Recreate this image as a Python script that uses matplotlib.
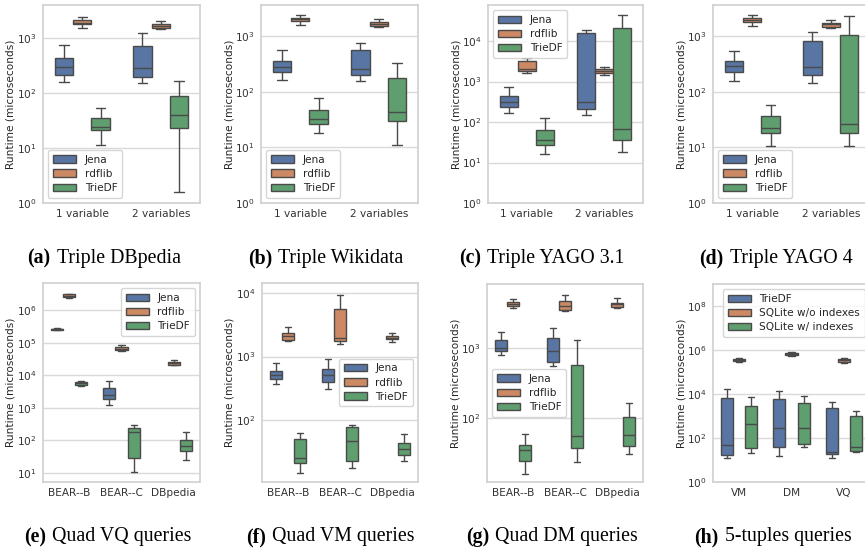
import matplotlib
matplotlib.use("Agg")
import matplotlib.pyplot as plt
from matplotlib.patches import Patch
import seaborn as sns

# five-number summaries per box: [whisker low, q1, median, q3, whisker high]
# None = no box for that group

# (a) Triple DBpedia
a_cats = ["1 variable", "2 variables"]
a_jena = [[160, 209, 291, 440, 760], [151, 197, 279, 716, 1230]]
a_rdflib = [[1520, 1770, 1890, 2090, 2400], [1450, 1520, 1650, 1770, 2000]]
a_triedf = [[11.2, 21, 24, 35, 54], [1.6, 23, 39, 88, 167]]

# (b) Triple Wikidata
b_cats = ["1 variable", "2 variables"]
b_jena = [[164, 229, 281, 363, 552], [156, 200, 256, 569, 760]]
b_rdflib = [[1600, 1860, 2020, 2160, 2380], [1470, 1530, 1660, 1760, 2020]]
b_triedf = [[18, 26, 32.7, 47.5, 76], [10.9, 30, 44, 176, 327]]

# (c) Triple YAGO 3.1
c_cats = ["1 variable", "2 variables"]
c_jena = [[166, 234, 309, 427, 726], [151, 209, 309, 16000, 19000]]
c_rdflib = [[1600, 1860, 2000, 3230, 3750], [1490, 1580, 1790, 2000, 2340]]
c_triedf = [[16.3, 26.5, 36.8, 65, 125], [18, 37, 66, 21300, 44500]]

# (d) Triple YAGO 4
d_cats = ["1 variable", "2 variables"]
d_jena = [[153, 228, 293, 361, 545], [145, 197, 282, 813, 1200]]
d_rdflib = [[1510, 1790, 1990, 2160, 2450], [1410, 1450, 1620, 1710, 1990]]
d_triedf = [[10.7, 17.9, 22, 36.6, 57], [10.7, 18, 26, 1030, 2260]]

# (e) Quad VQ queries
e_cats = ["BEAR--B", "BEAR--C", "DBpedia"]
e_jena = [[2.4e5, 2.45e5, 2.6e5, 2.7e5, 2.8e5], [1230, 1800, 2500, 4000, 6700], None]
e_rdflib = [[2.3e6, 2.5e6, 2.75e6, 3.0e6, 3.2e6], [5.6e4, 5.8e4, 6.4e4, 7.2e4, 8.3e4],
            [2.0e4, 2.1e4, 2.3e4, 2.6e4, 2.9e4]]
e_triedf = [[4500, 5100, 5700, 6200, 6600], [10.5, 28.7, 176, 240, 295], [25, 48, 65, 105, 176]]

# (f) Quad VM queries
f_cats = ["BEAR--B", "BEAR--C", "DBpedia"]
f_jena = [[375, 437, 513, 589, 804], [305, 403, 513, 631, 907], None]
f_rdflib = [[1730, 1850, 2090, 2370, 2870], [1600, 1770, 1950, 5590, 9420],
            [1680, 1880, 1990, 2120, 2340]]
f_triedf = [[14.7, 20.7, 24.8, 49.5, 61.6], [17.3, 22.8, 46.5, 76.6, 83], [22.8, 27.9, 35, 43, 60]]

# (g) Quad DM queries
g_cats = ["BEAR--B", "BEAR--C", "DBpedia"]
g_jena = [[792, 895, 978, 1290, 1700], [556, 629, 895, 1390, 1920], None]
g_rdflib = [[3690, 3990, 4260, 4450, 4980], [3370, 3490, 3890, 4600, 5750],
            [3690, 3820, 4170, 4360, 5140]]
g_triedf = [[16.1, 24.5, 35, 41, 59], [23.7, 36.9, 55.6, 563, 1290], [30.6, 39.9, 56.9, 103, 161]]

# (h) 5-tuples queries
h_cats = ["VM", "DM", "VQ"]
h_triedf = [[12.3, 17.5, 50, 6300, 16300], [15, 41, 295, 5700, 13300], [12, 18, 24, 2300, 4500]]
h_sqlite_noidx = [[2.8e5, 3.06e5, 3.5e5, 4.0e5, 4.5e5], [5.3e5, 5.7e5, 6.6e5, 7.5e5, 8.1e5],
                  [2.6e5, 2.96e5, 3.4e5, 3.9e5, 4.2e5]]
h_sqlite_idx = [[21, 34, 434, 2840, 7300], [39, 51, 274, 4000, 8400], [22, 26.5, 39, 1040, 1640]]

rdf_labels = ["Jena", "rdflib", "TrieDF"]
h_labels = ["TrieDF", "SQLite w/o indexes", "SQLite w/ indexes"]

captions = [("(a)", "Triple DBpedia"), ("(b)", "Triple Wikidata"), ("(c)", "Triple YAGO 3.1"),
            ("(d)", "Triple YAGO 4"), ("(e)", "Quad VQ queries"), ("(f)", "Quad VM queries"),
            ("(g)", "Quad DM queries"), ("(h)", "5-tuples queries")]

sns.set_theme(style="whitegrid")
plt.rcParams["font.family"] = ["DejaVu Sans"]
plt.rcParams["axes.edgecolor"] = ".82"
plt.rcParams["grid.color"] = ".85"

colors = ["#5875A3", "#CC8963", "#5F9E6E"]
edge = "#4a4a4a"

W, H = 865, 549
fig = plt.figure(figsize=(W / 100, H / 100), dpi=100)


def make_ax(left, top, width, height):
    return fig.add_axes([left / W, 1 - (top + height) / H, width / W, height / H])


def draw(ax, cats, series, labels, ylim, legend_loc, yticks=None, anchor=None):
    n = len(series)
    bw = 0.7 / n
    for j, ser in enumerate(series):
        off = (j - (n - 1) / 2) * bw
        stats, pos = [], []
        for i, v in enumerate(ser):
            if v is None:
                continue
            stats.append(dict(whislo=v[0], q1=v[1], med=v[2], q3=v[3], whishi=v[4], fliers=[]))
            pos.append(i + off)
        ax.bxp(stats, positions=pos, widths=bw, patch_artist=True, showfliers=False,
               boxprops=dict(facecolor=colors[j], edgecolor=edge, linewidth=1.0),
               medianprops=dict(color=edge, linewidth=1.0),
               whiskerprops=dict(color=edge, linewidth=1.0),
               capprops=dict(color=edge, linewidth=1.0), capwidths=bw / 2)
    ax.set_yscale("log")
    ax.set_ylim(*ylim)
    if yticks is not None:
        ax.set_yticks(yticks)
    ax.minorticks_off()
    ax.set_xlim(-0.5, len(cats) - 0.5)
    ax.set_xticks(range(len(cats)))
    ax.set_xticklabels(cats)
    ax.grid(False, axis="x")
    ax.grid(True, axis="y")
    ax.tick_params(labelsize=7.6, colors="#333333", length=0, pad=4.5)
    ax.set_ylabel("Runtime (microseconds)", fontsize=7.6, color="#262626")
    w_px = ax.get_position().width * W
    ax.yaxis.set_label_coords(-27 / w_px, 0.5)
    handles = [Patch(facecolor=c, edgecolor=edge, linewidth=1.0) for c in colors]
    ax.legend(handles, labels, loc=legend_loc, bbox_to_anchor=anchor, fontsize=7.6,
              handlelength=2.2, borderpad=0.45, labelspacing=0.4)


axa = make_ax(43, 5, 157, 198)
draw(axa, a_cats, [a_jena, a_rdflib, a_triedf], rdf_labels, (1, 10 ** 3.6), "lower left")
axb = make_ax(261, 5, 157, 198)
draw(axb, b_cats, [b_jena, b_rdflib, b_triedf], rdf_labels, (1, 10 ** 3.56), "lower left")
axc = make_ax(488, 5, 155, 198)
draw(axc, c_cats, [c_jena, c_rdflib, c_triedf], rdf_labels, (1, 10 ** 4.89), "upper left")
axd = make_ax(713, 5, 157, 198)
draw(axd, d_cats, [d_jena, d_rdflib, d_triedf], rdf_labels, (1, 10 ** 3.56), "lower left")

axe = make_ax(43, 283, 157, 199)
draw(axe, e_cats, [e_jena, e_rdflib, e_triedf], rdf_labels, (10 ** 0.72, 10 ** 6.83), "upper right")
axf = make_ax(262, 283, 156, 199)
draw(axf, f_cats, [f_jena, f_rdflib, f_triedf], rdf_labels, (10 ** 1.02, 10 ** 4.16), "center right")
axg = make_ax(487, 284, 156, 198)
draw(axg, g_cats, [g_jena, g_rdflib, g_triedf], rdf_labels, (10 ** 1.086, 10 ** 3.91), "center left",
     anchor=(0, 0.45))
axh = make_ax(713, 284, 157, 198)
draw(axh, h_cats, [h_triedf, h_sqlite_noidx, h_sqlite_idx], h_labels, (1, 1e9), "upper right",
     yticks=[1e0, 1e2, 1e4, 1e6, 1e8])

# captions: bold tag + regular title, centred under each panel
cap_pos = [(104, 258), (326, 258), (542, 258), (776, 258),
           (108, 537), (330, 537), (552, 537), (773, 537)]
renderer = fig.canvas.get_renderer()
for (tag, title), (cx, cy) in zip(captions, cap_pos):
    t1 = fig.text(0, 0, tag, fontsize=14.3, fontweight="bold", family="Liberation Serif",
                  va="center", color="black")
    t2 = fig.text(0, 0, title, fontsize=14.3, family="Liberation Serif", va="center", color="black")
    w1 = t1.get_window_extent(renderer).width
    w2 = t2.get_window_extent(renderer).width
    gap = 6
    x0 = cx - (w1 + gap + w2) / 2
    t1.set_position((x0 / W, 1 - cy / H))
    t2.set_position(((x0 + w1 + gap) / W, 1 - cy / H))

plt.savefig("out.png", dpi=100)
